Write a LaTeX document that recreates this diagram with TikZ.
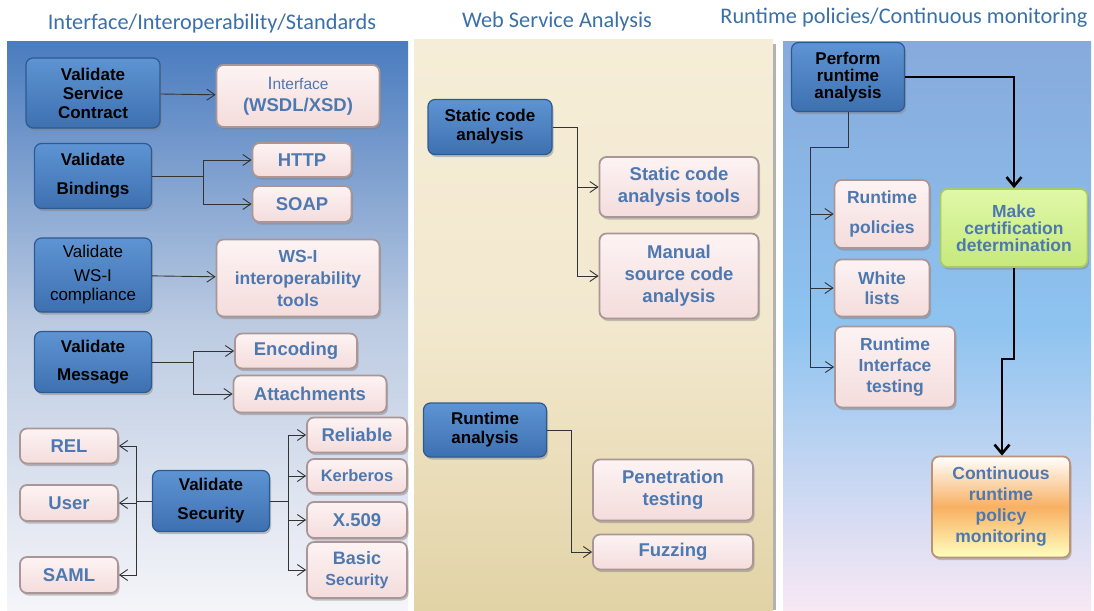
\documentclass[tikz,border=0pt]{standalone}
\usepackage{fontspec}
\setmainfont{Liberation Sans}
\newfontfamily\headfam{Carlito}
\usetikzlibrary{arrows.meta,shadows}

\definecolor{headblue}{HTML}{3A70A8}
\definecolor{dktop}{HTML}{5E94D3}
\definecolor{dkbot}{HTML}{3E70B0}
\definecolor{dkedge}{HTML}{2C5A92}
\definecolor{pktop}{HTML}{FDF3F3}
\definecolor{pkbot}{HTML}{F4DCDC}
\definecolor{pkedge}{HTML}{AA9696}
\definecolor{pktext}{HTML}{4D79B0}
\definecolor{grtop}{HTML}{E0F8A8}
\definecolor{grbot}{HTML}{C6E97C}
\definecolor{gredge}{HTML}{A9C86A}
\definecolor{ormid}{HTML}{F8B062}
\definecolor{ltop}{HTML}{4A7CBF}
\definecolor{lmid}{HTML}{BCCBE2}
\definecolor{lbot}{HTML}{F5F5F9}
\definecolor{mtop}{HTML}{F6EDD8}
\definecolor{mmid}{HTML}{F2E8CE}
\definecolor{mbot}{HTML}{E2D3A6}
\definecolor{rtop}{HTML}{86AADC}
\definecolor{rmid}{HTML}{8EC3F0}
\definecolor{rbot}{HTML}{F8E8F4}

\newcommand\dkfont{\fontsize{17}{19}\selectfont\bfseries}
\newcommand\pkfont{\fontsize{18.5}{22}\selectfont\bfseries}
\newcommand\hdfont{\headfam\fontsize{22.3}{24}\selectfont}

\begin{document}
\begin{tikzpicture}[
    x = 1pt,
    y = -1pt,
    >={Straight Barb[length=8pt,width=11pt]},
    wh/.style 2 args = {minimum width = #1, minimum height = #2},
    box/.style = {
      rounded corners = 7pt,
      align = center,
      inner sep = 2pt,
      drop shadow = {shadow xshift=1.5pt, shadow yshift=-2.5pt, opacity=0.45}
    },
    dkbox/.style = {
      box,
      draw = dkedge,
      line width = 1.2pt,
      top color = dktop,
      bottom color = dkbot,
      text = black,
      font = \dkfont
    },
    pkbox/.style = {
      box,
      draw = pkedge,
      line width = 1.8pt,
      top color = pktop,
      bottom color = pkbot,
      text = pktext,
      font = \pkfont
    },
    grbox/.style = {
      pkbox,
      draw = gredge,
      top color = grtop,
      bottom color = grbot
    },
    orbox/.style = {
      pkbox,
      draw = pkedge!80!orange,
      top color = white,
      bottom color = yellow!25!white,
      middle color = ormid
    },
    head/.style = {font = \hdfont, text = headblue},
    link/.style = {->, draw = black!80, line width = 0.9pt},
    biglink/.style = {
      draw = black,
      line width = 2.6pt,
      -{Straight Barb[length=9pt,width=15pt]}
    }
  ]
  \useasboundingbox (0,0) rectangle (1094,610);

  % panels
  \shade[top color=ltop, bottom color=lbot, middle color=lmid] (7,42) rectangle (408,610);
  \shade[top color=mtop, bottom color=mbot, middle color=mmid] (414,40) rectangle (773,610);
  \fill[black!30] (773,44) rectangle (776,610);
  \shade[top color=rtop, bottom color=rbot, middle color=rmid] (783,42) rectangle (1091,610);

  \node[head] (h1) at (212,24) {Interface/Interoperability/Standards};
  \node[head] (h2) at (557,22) {Web Service Analysis};
  \node[head] (h3) at (904,18) {Runtime policies/Continuous monitoring};

  % interface / interoperability / standards
  \node[dkbox, wh={134}{70}] (vsc) at (93,93) {Validate\\Service\\Contract};
  \node[pkbox, wh={163}{62}] (wsdl) at (298,96)
    {{\mdseries\fontsize{18}{20}\selectfont I\fontsize{15.5}{20}\selectfont nterface}\\(WSDL/XSD)};
  \node[dkbox, wh={117}{65}] (vb) at (93,176) {Validate\\[10pt]Bindings};
  \node[pkbox, wh={99}{34}] (http) at (302,160) {HTTP};
  \node[pkbox, wh={99}{36}] (soap) at (302,204) {SOAP};
  \node[dkbox, wh={117}{74}, font=\dkfont\mdseries] (vw) at (93,275) {Validate\\[5pt]WS-I\\compliance};
  \node[pkbox, wh={163}{77}, font=\pkfont\fontsize{17.5}{22}\selectfont] (wsi) at (298,278)
    {WS-I\\interoperability\\tools};
  \node[dkbox, wh={117}{61}] (vm) at (93,362) {Validate\\[9pt]Message};
  \node[pkbox, wh={122}{35}] (enc) at (296,351) {Encoding};
  \node[pkbox, wh={153}{37}] (att) at (310,394) {Attachments};
  \node[dkbox, wh={117}{61}] (vs) at (211,501) {Validate\\[10pt]Security};
  \node[pkbox, wh={98}{35}] (rel) at (69,446) {REL};
  \node[pkbox, wh={98}{36}] (user) at (69,503) {User};
  \node[pkbox, wh={98}{36}] (saml) at (69,575) {SAML};
  \node[pkbox, wh={100}{35}] (reli) at (357,435) {Reliable};
  \node[pkbox, wh={100}{34}, font=\pkfont\fontsize{16.5}{20}\selectfont] (kerb) at (357,476) {Kerberos};
  \node[pkbox, wh={100}{36}] (x509) at (357,520) {X.509};
  \node[pkbox, wh={100}{56}, font=\pkfont\fontsize{18}{21}\selectfont] (basic) at (357,570)
    {Basic\\{\fontsize{16}{18}\selectfont Security}};

  \coordinate (jvb) at (203,176);
  \coordinate (jvm) at (193,362);
  \coordinate (jvsl) at (136,501);
  \coordinate (jvsr) at (288,501);

  \draw[link] (vsc) -- (wsdl);
  \draw[link] (vb.east) -- (jvb) |- (http);
  \draw[link] (jvb) |- (soap);
  \draw[link] (vw) -- (wsi);
  \draw[link] (vm.east) -- (jvm) |- (enc);
  \draw[link] (jvm) |- (att);
  \draw[link] (vs.west) -- (jvsl) |- (rel);
  \draw[link] (jvsl) |- (user);
  \draw[link] (jvsl) |- (saml);
  \draw[link] (vs.east) -- (jvsr) |- (reli);
  \draw[link] (jvsr) |- (kerb);
  \draw[link] (jvsr) |- (x509);
  \draw[link] (jvsr) |- (basic);

  % web service analysis
  \node[dkbox, wh={124}{55}] (sca) at (490,127) {Static code\\analysis};
  \node[pkbox, wh={159}{60}] (scat) at (679,187) {Static code\\analysis tools};
  \node[pkbox, wh={159}{85}] (msca) at (679,276) {Manual\\source code\\analysis};
  \node[dkbox, wh={123}{54}] (ra) at (485,430) {Runtime\\analysis};
  \node[pkbox, wh={160}{61}] (pent) at (673,490) {Penetration\\testing};
  \node[pkbox, wh={160}{35}] (fuzz) at (673,552) {Fuzzing};

  \coordinate (jsca) at (577,127);
  \coordinate (jra) at (571,430);

  \draw[link] (sca.east) -- (jsca) |- (scat);
  \draw[link] (jsca) |- (msca);
  \draw[link] (ra.east) -- (jra) |- (fuzz);

  % runtime policies / continuous monitoring
  \node[dkbox, wh={113}{69}, font=\dkfont\fontsize{17}{17}\selectfont] (pra) at (848,77) {Perform\\runtime\\analysis};
  \node[grbox, wh={147}{78}, font=\pkfont\fontsize{17.5}{17}\selectfont] (mcd) at (1014,228)
    {Make\\certification\\determination};
  \node[pkbox, wh={95}{68}, font=\pkfont\fontsize{17.5}{22}\selectfont] (rp) at (882,214) {Runtime\\[8pt]policies};
  \node[pkbox, wh={95}{57}, font=\pkfont\fontsize{17.5}{20}\selectfont] (wl) at (882,288) {White\\lists};
  \node[pkbox, wh={120}{81}, font=\pkfont\fontsize{17.5}{21}\selectfont] (rit) at (895,367)
    {Runtime\\Interface\\testing};
  \node[orbox, wh={138}{101}, font=\pkfont\fontsize{17.5}{21}\selectfont] (crpm) at (1001,507)
    {Continuous\\runtime\\policy\\monitoring};

  \coordinate (jpra) at (810,147);
  \coordinate (kink) at (1002,359);

  \draw[link, -] (pra.south) |- (jpra) -- (jpra |- rit);
  \draw[link] (jpra |- rp) -- (rp);
  \draw[link] (jpra |- wl) -- (wl);
  \draw[link] (jpra |- rit) -- (rit);
  \draw[biglink] (pra.east) -| (mcd);
  \draw[biglink] (mcd.south) -- (mcd.south |- kink) -- (kink) -- (kink |- crpm.north);
\end{tikzpicture}
\end{document}
